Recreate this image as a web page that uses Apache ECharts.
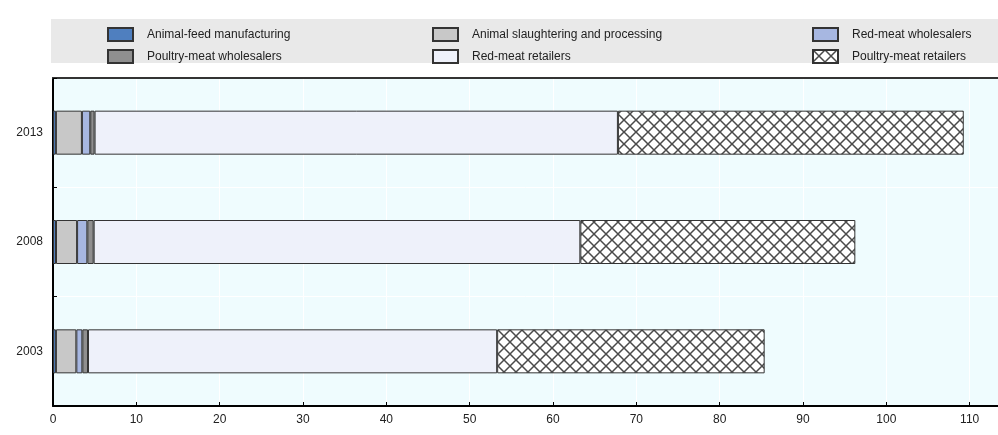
<!DOCTYPE html>
<html>
<head>
<meta charset="utf-8">
<script src="https://cdn.jsdelivr.net/npm/echarts@6/dist/echarts.min.js"></script>
<style>
  html, body { margin: 0; padding: 0; background: #fff; }
  #chart { width: 998px; height: 435px; }
</style>
</head>
<body>
<div id="chart"></div>
<script>
// Years shown on the category axis (bottom to top)
const years = ['2003', '2008', '2013'];

// Series values, one per year (same order as years)
const animalFeed      = [0.35, 0.36, 0.35];
const slaughtering    = [2.45, 2.53, 3.12];
const redWholesalers  = [0.72, 1.23, 1.00];
const poultryWholesalers = [0.68, 0.76, 0.52];
const redRetailers    = [49.1, 58.4, 62.8];
const poultryRetailers = [32.1, 33.0, 41.5];

const seriesNames = [
  'Animal-feed manufacturing',
  'Animal slaughtering and processing',
  'Red-meat wholesalers',
  'Poultry-meat wholesalers',
  'Red-meat retailers',
  'Poultry-meat retailers'
];

// Cross-hatch fill for the poultry-meat retailers segment
function makeHatch() {
  const s = 12;
  const c = document.createElement('canvas');
  c.width = s; c.height = s;
  const g = c.getContext('2d');
  g.fillStyle = '#ffffff';
  g.fillRect(0, 0, s, s);
  g.strokeStyle = '#4a4a4a';
  g.lineWidth = 1.5;
  g.beginPath();
  g.moveTo(-1, -1); g.lineTo(s + 1, s + 1);
  g.moveTo(s + 1, -1); g.lineTo(-1, s + 1);
  g.stroke();
  return c;
}

const fills = [
  '#4f7fbf',
  '#c8c8c8',
  '#a7b7e1',
  '#8f8f8f',
  '#eef1fa',
  { image: makeHatch(), repeat: 'repeat' }
];
const values = [animalFeed, slaughtering, redWholesalers, poultryWholesalers, redRetailers, poultryRetailers];

const FONT = '"Liberation Sans", Arial, sans-serif';

const series = seriesNames.map((name, i) => ({
  name,
  type: 'bar',
  stack: 'total',
  barWidth: 44,
  data: values[i],
  itemStyle: { color: fills[i], borderColor: '#333333', borderWidth: 1 },
  emphasis: { disabled: true },
  animation: false
}));

// Legend laid out as a 3x2 grid
const legendCols = [102, 427, 807];
const legendRows = [22, 44];
const legends = seriesNames.map((name, i) => ({
  data: [{ name, icon: 'rect' }],
  left: legendCols[i % 3],
  top: legendRows[Math.floor(i / 3)],
  itemWidth: 25,
  itemHeight: 13,
  selectedMode: false,
  textStyle: { fontFamily: FONT, fontSize: 12, color: '#222', padding: [0, 0, 0, 9] }
}));

const chart = echarts.init(document.getElementById('chart'), null, { renderer: 'canvas' });
chart.setOption({
  animation: false,
  graphic: [{
    type: 'rect',
    shape: { x: 51, y: 19, width: 947, height: 44 },
    style: { fill: '#e9e9e9' },
    z: -1
  }],
  legend: legends,
  grid: {
    left: 53, right: 0, top: 78, bottom: 29,
    show: true, backgroundColor: '#effcfe', borderWidth: 0
  },
  xAxis: [{
    type: 'value',
    min: 0, max: 113.4, interval: 10,
    axisLine: { show: true, lineStyle: { color: '#000', width: 2 } },
    axisTick: { show: true, inside: true, length: 4, lineStyle: { color: '#000' } },
    axisLabel: { fontFamily: FONT, fontSize: 12, color: '#222', margin: 8, showMaxLabel: false },
    splitLine: { show: true, lineStyle: { color: '#ffffff', width: 1 } }
  }, {
    type: 'value',
    position: 'top',
    min: 0, max: 113.4,
    axisLine: { show: true, lineStyle: { color: '#333', width: 2 } },
    axisTick: { show: false },
    axisLabel: { show: false },
    splitLine: { show: false }
  }],
  yAxis: {
    type: 'category',
    data: years,
    axisLine: { show: true, lineStyle: { color: '#000', width: 2 } },
    axisTick: { show: true, inside: true, length: 4, lineStyle: { color: '#000' } },
    axisLabel: { fontFamily: FONT, fontSize: 12, color: '#222', margin: 10 },
    splitLine: { show: true, lineStyle: { color: '#ffffff', width: 1 } }
  },
  series
});
</script>
</body>
</html>
